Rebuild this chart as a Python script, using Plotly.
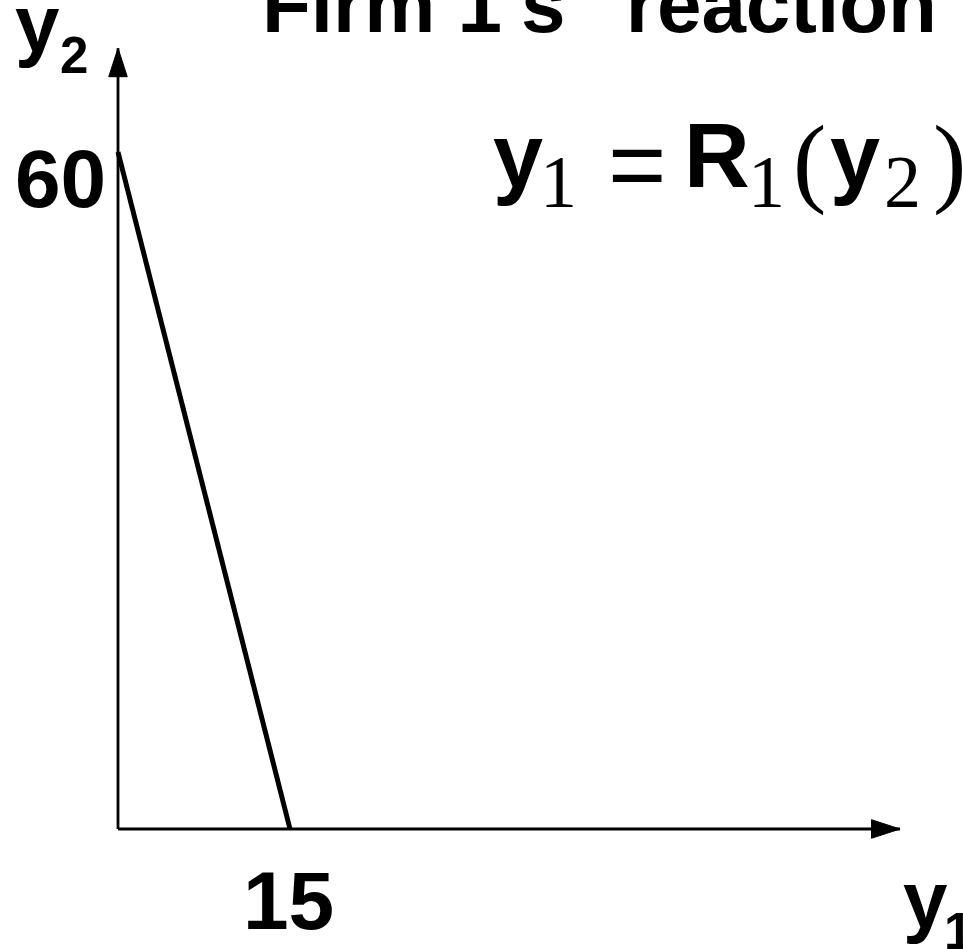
import plotly.graph_objects as go

# ---- data ----
reaction_y1 = [0, 15]      # firm 1 output along the reaction line
reaction_y2 = [60, 0]      # firm 2 output along the reaction line
x_axis_end = 68.2          # extent of the y1 axis arrow
y_axis_end = 69.2          # extent of the y2 axis arrow
tick_60 = "60"
tick_15 = "15"
title_text = 'Firm 1\'s "reaction" curve'

W, H = 963, 949
SANS = "Liberation Sans, Arial, sans-serif"
SERIF = "Liberation Serif, Times New Roman, serif"

# pixel scale of the data axes
ox, oy = 118, 829
sx = (290 - ox) / 15.0
sy = (oy - 152) / 60.0

fig = go.Figure()

# axes with arrowheads
fig.add_trace(go.Scatter(
    x=[0, x_axis_end], y=[0, 0], mode="lines+markers",
    line=dict(color="#000000", width=2.8),
    marker=dict(symbol=["circle", "arrow"], size=[0, 30], angle=[0, 90],
                color="#000000", opacity=1, line=dict(width=1, color="#000000")),
    opacity=1, hoverinfo="skip", showlegend=False, cliponaxis=False))
fig.add_trace(go.Scatter(
    x=[0, 0], y=[0, y_axis_end], mode="lines+markers",
    line=dict(color="#000000", width=2.8),
    marker=dict(symbol=["circle", "arrow"], size=[0, 30], angle=[0, 0],
                color="#000000", opacity=1, line=dict(width=1, color="#000000")),
    opacity=1, hoverinfo="skip", showlegend=False, cliponaxis=False))

# reaction line
fig.add_trace(go.Scatter(
    x=reaction_y1, y=reaction_y2, mode="lines",
    line=dict(color="#000000", width=5),
    hoverinfo="skip", showlegend=False, cliponaxis=False))

ann = []


def txt(s, left, cy, size, fam=SANS, bold=True):
    ann.append(dict(text=s, xref="paper", yref="paper",
                    x=left / W, y=1 - cy / H, xanchor="left", yanchor="middle",
                    showarrow=False, borderpad=0,
                    font=dict(family=fam, size=size, color="black",
                              weight="bold" if bold else "normal")))


# title (cut at top edge)
txt(title_text, 261, 4.3, 80)
# y2 axis label
txt("y", 14, 23.8, 80)
txt("2", 58.5, 55.3, 51)
# tick labels
txt(tick_60, 13.7, 178.0, 82)
txt(tick_15, 242, 900.6, 82)
# y1 axis label (cut at right edge)
txt("y", 902, 899.8, 80)
txt("1", 943, 931.3, 51)
# equation y1 = R1(y2)
txt("y", 492, 155.8, 90)
txt("1", 539, 182, 74, SERIF, bold=False)
txt("=", 607, 163.5, 100, bold=False)
txt("R", 683, 155.5, 91)
txt("1", 747, 182, 74, SERIF, bold=False)
txt("(", 792, 160.5, 100, SERIF, bold=False)
txt("y", 829, 155.8, 90)
txt("2", 883, 182, 74, SERIF, bold=False)
txt(")", 932, 160.5, 100, SERIF, bold=False)

fig.update_layout(
    width=W, height=H,
    margin=dict(l=0, r=0, t=0, b=0),
    paper_bgcolor="white", plot_bgcolor="white",
    xaxis=dict(range=[-ox / sx, (W - ox) / sx], visible=False, fixedrange=True),
    yaxis=dict(range=[-(H - oy) / sy, oy / sy], visible=False, fixedrange=True),
    annotations=ann,
    showlegend=False,
)

fig.write_html(
    "out.html",
    config={"displayModeBar": False},
    post_script="document.body.style.margin='0';document.body.style.overflow='hidden';",
)
